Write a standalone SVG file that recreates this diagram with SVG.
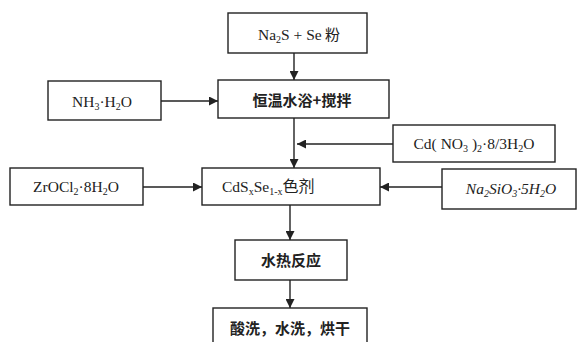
<svg xmlns="http://www.w3.org/2000/svg" width="578" height="342" viewBox="0 0 578 342">
<style>
.box{fill:#fff;stroke:#222;stroke-width:1.4}
.f{font-family:"Liberation Serif","Times New Roman",serif;font-size:15.5px;fill:#222}
.c{font-family:"Noto Sans CJK SC","Noto Sans",sans-serif;font-size:15px;fill:#222;font-weight:bold}
.s{font-size:10px}
.ln{stroke:#222;stroke-width:1.4;fill:none;marker-end:url(#ah)}
</style>
<defs>
<marker id="ah" viewBox="0 0 10 10" refX="10" refY="5" markerWidth="9" markerHeight="9" markerUnits="userSpaceOnUse" orient="auto">
<path d="M0,0 L10,5 L0,10 z" fill="#222"/>
</marker>
</defs>
<rect width="578" height="342" fill="#fff"/>
<g id="connectors">
<line class="ln" x1="294" y1="53" x2="294" y2="80"/>
<line class="ln" x1="161" y1="101" x2="218" y2="101"/>
<line class="ln" x1="294" y1="118" x2="294" y2="168"/>
<line class="ln" x1="393" y1="144" x2="297" y2="144"/>
<line class="ln" x1="143" y1="187" x2="202" y2="187"/>
<line class="ln" x1="442" y1="187" x2="380" y2="187"/>
<line class="ln" x1="290" y1="205" x2="290" y2="240"/>
<line class="ln" x1="290" y1="280" x2="290" y2="308"/>
</g>
<g id="n1"><rect class="box" x="228" y="13" width="139" height="40"/>
<text x="299" y="40" text-anchor="middle"><tspan class="f">Na<tspan class="s" dy="3">2</tspan><tspan dy="-3">S + Se</tspan></tspan><tspan class="c" style="font-weight:normal"> 粉</tspan></text></g>
<g id="n2"><rect class="box" x="218" y="80" width="171" height="38"/>
<text class="c" x="302" y="106" text-anchor="middle">恒温水浴+搅拌</text></g>
<g id="n3"><rect class="box" x="48" y="81" width="113" height="39"/>
<text class="f" x="102" y="107" text-anchor="middle">NH<tspan class="s" dy="3">3</tspan><tspan dy="-3">·H</tspan><tspan class="s" dy="3">2</tspan><tspan dy="-3">O</tspan></text></g>
<g id="n4"><rect class="box" x="393" y="125" width="162" height="37"/>
<text class="f" x="474" y="149" text-anchor="middle">Cd( NO<tspan class="s" dy="3">3</tspan><tspan dy="-3"> )</tspan><tspan class="s" dy="3">2</tspan><tspan dy="-3">·8/3H</tspan><tspan class="s" dy="3">2</tspan><tspan dy="-3">O</tspan></text></g>
<g id="n5"><rect class="box" x="202" y="168" width="178" height="37"/>
<text x="222" y="192"><tspan class="f">CdS<tspan class="s" dy="3">x</tspan><tspan dy="-3">Se</tspan><tspan class="s" dy="3">1-x</tspan></tspan><tspan class="c" dy="-3" style="font-weight:normal;font-size:16px">色剂</tspan></text></g>
<g id="n6"><rect class="box" x="10" y="168" width="133" height="37"/>
<text class="f" x="76" y="192" text-anchor="middle">ZrOCl<tspan class="s" dy="3">2</tspan><tspan dy="-3">·8H</tspan><tspan class="s" dy="3">2</tspan><tspan dy="-3">O</tspan></text></g>
<g id="n7"><rect class="box" x="442" y="169" width="134" height="40"/>
<text class="f" x="511" y="194" text-anchor="middle" font-style="italic">Na<tspan class="s" dy="3">2</tspan><tspan dy="-3">SiO</tspan><tspan class="s" dy="3">3</tspan><tspan dy="-3">·5H</tspan><tspan class="s" dy="3">2</tspan><tspan dy="-3">O</tspan></text></g>
<g id="n8"><rect class="box" x="235" y="240" width="112" height="40"/>
<text class="c" x="291" y="266" text-anchor="middle">水热反应</text></g>
<g id="n9"><rect class="box" x="213" y="308" width="154" height="40"/>
<text class="c" x="290" y="334" text-anchor="middle">酸洗，水洗，烘干</text></g>
</svg>
